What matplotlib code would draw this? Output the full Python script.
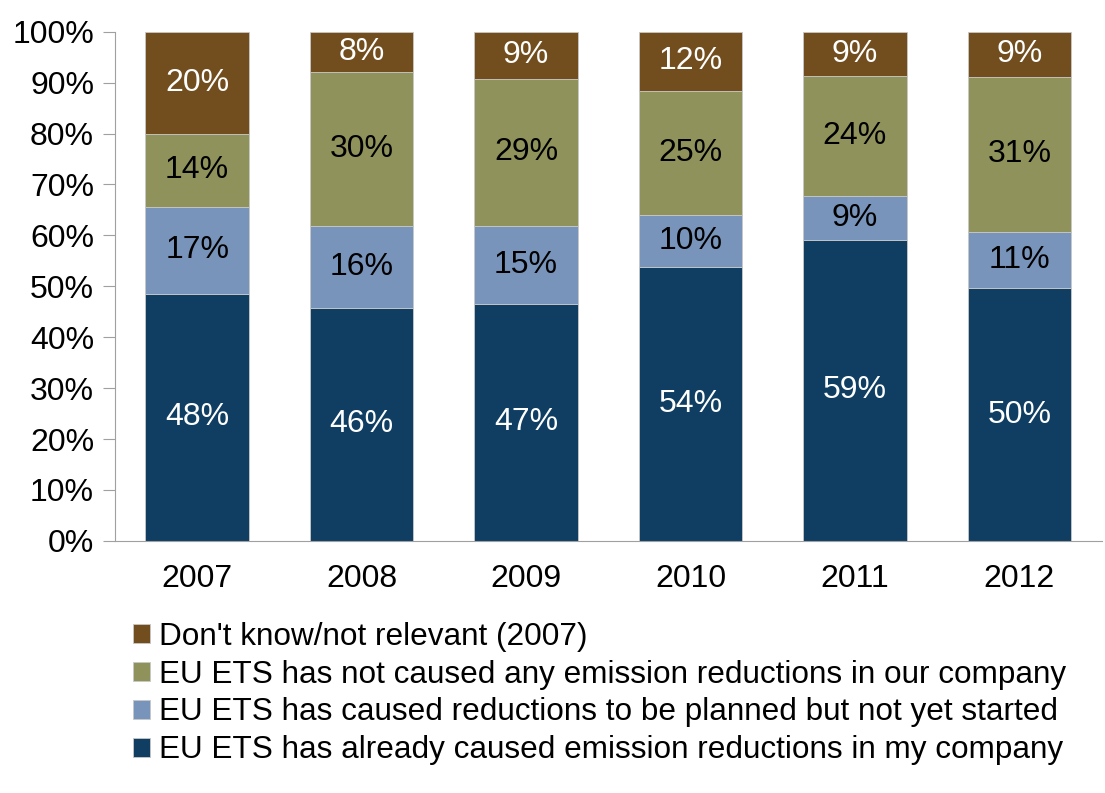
import numpy as np
import matplotlib.pyplot as plt

plt.rcParams['font.family'] = ['Liberation Sans', 'DejaVu Sans']

years = ['2007', '2008', '2009', '2010', '2011', '2012']
already = [48.5, 45.8, 46.6, 53.8, 59.1, 49.6]
planned = [17.1, 16.1, 15.3, 10.2, 8.6, 11.0]
not_caused = [14.4, 30.2, 28.9, 24.4, 23.7, 30.6]
dont_know = [20.0, 7.9, 9.2, 11.6, 8.6, 8.8]

labels_already = ['48%', '46%', '47%', '54%', '59%', '50%']
labels_planned = ['17%', '16%', '15%', '10%', '9%', '11%']
labels_not = ['14%', '30%', '29%', '25%', '24%', '31%']
labels_dk = ['20%', '8%', '9%', '12%', '9%', '9%']

series = [
    ("EU ETS has already caused emission reductions in my company", already, labels_already, '#0F3E62', 'white'),
    ("EU ETS has caused reductions to be planned but not yet started", planned, labels_planned, '#7894BA', 'black'),
    ("EU ETS has not caused any emission reductions in our company", not_caused, labels_not, '#8F935B', 'black'),
    ("Don't know/not relevant (2007)", dont_know, labels_dk, '#724E1F', 'white'),
]

fig = plt.figure(figsize=(11.05, 7.93), dpi=100)
ax = fig.add_axes([0.104, 0.318, 0.893, 0.642])

x = np.arange(len(years))
bottom = np.zeros(len(years))
handles = []
for name, vals, labs, col, tcol in series:
    vals = np.array(vals)
    b = ax.bar(x, vals, 0.63, bottom=bottom, color=col, edgecolor='#c8c8c8',
               linewidth=0.6, label=name)
    handles.append(b)
    for xi, v, bt, lab in zip(x, vals, bottom, labs):
        ax.text(xi, bt + v / 2, lab, ha='center', va='center', fontsize=23, color=tcol)
    bottom = bottom + vals

ax.set_xlim(-0.5, 5.5)
ax.set_ylim(0, 100)
ax.set_yticks(np.arange(0, 101, 10))
ax.set_yticklabels([f'{v}%' for v in range(0, 101, 10)], fontsize=23)
ax.set_xticks(x)
ax.set_xticklabels(years, fontsize=23)
ax.tick_params(axis='x', length=0, pad=17)
ax.tick_params(axis='y', length=9, color='#a0a0a0', pad=6)
for s in ['top', 'right']:
    ax.spines[s].set_visible(False)
for s in ['left', 'bottom']:
    ax.spines[s].set_color('#a0a0a0')

fig.legend(handles[::-1], [h.get_label() for h in handles[::-1]],
           loc='upper left', bbox_to_anchor=(0.12, 0.216), frameon=False,
           fontsize=22.7, handlelength=0.55, handleheight=0.55, handletextpad=0.3,
           labelspacing=0.25, borderpad=0, borderaxespad=0)

fig.savefig('out.png', dpi=100)
